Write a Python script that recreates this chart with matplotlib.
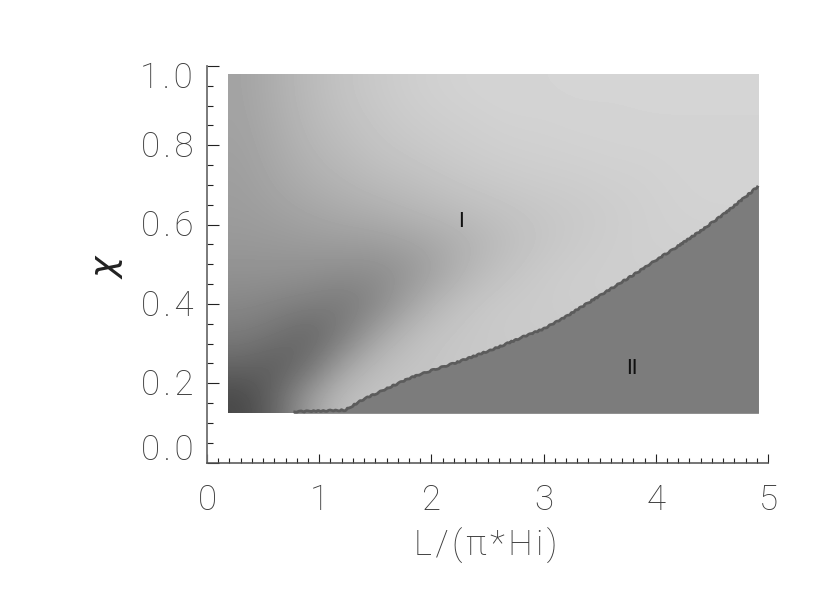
import numpy as np
import matplotlib
matplotlib.use('Agg')
import matplotlib.pyplot as plt

plt.rcParams['font.family'] = ['Roboto', 'DejaVu Sans']

# grey levels, bottom row first, 16 columns across L
grey = [
    [72, 105, 160, 190, 195, 197, 198, 198, 200, 200, 200, 200, 200, 200, 200, 200],
    [100, 92, 115, 165, 188, 195, 198, 200, 200, 200, 200, 200, 200, 200, 200, 200],
    [122, 112, 100, 125, 165, 188, 197, 200, 202, 202, 202, 202, 202, 202, 202, 202],
    [135, 130, 125, 120, 135, 165, 187, 198, 202, 203, 205, 205, 205, 205, 205, 205],
    [145, 145, 143, 140, 140, 150, 168, 186, 196, 202, 205, 206, 206, 206, 206, 206],
    [152, 153, 155, 156, 157, 162, 170, 180, 190, 197, 202, 205, 207, 208, 208, 208],
    [156, 160, 165, 170, 174, 180, 185, 190, 194, 198, 201, 204, 207, 209, 210, 210],
    [158, 166, 174, 180, 186, 190, 195, 199, 202, 204, 205, 207, 208, 210, 211, 211],
    [160, 170, 180, 187, 194, 198, 202, 205, 207, 208, 209, 210, 210, 211, 211, 211],
    [162, 173, 184, 192, 198, 203, 206, 208, 210, 210, 211, 211, 212, 212, 212, 212],
    [163, 175, 186, 195, 201, 206, 209, 211, 212, 212, 213, 213, 213, 213, 213, 213],
]
L_range = [0.187, 4.915]
chi_range = [0.124, 0.977]

# boundary between region I and II
bound_L = [0.77, 1.23, 1.4, 1.6, 1.8, 2.0, 2.2, 2.4, 2.6, 2.8, 3.0, 3.2, 3.4, 3.6, 3.8, 4.0, 4.2, 4.4, 4.6, 4.8, 4.915]
bound_chi = [0.128, 0.132, 0.160, 0.186, 0.212, 0.232, 0.250, 0.270, 0.291, 0.315, 0.337, 0.368, 0.403, 0.438, 0.473, 0.510, 0.546, 0.584, 0.625, 0.670, 0.697]

x_major = [0, 1, 2, 3, 4, 5]
y_major = [0.0, 0.2, 0.4, 0.6, 0.8, 1.0]
y_labels = ['0.0', '0.2', '0.4', '0.6', '0.8', '1.0']

W, H = 830, 594
fig = plt.figure(figsize=(W / 100, H / 100), dpi=100)
ax = fig.add_axes([207 / W, (H - 462.5) / H, 561 / W, 396.5 / H])

ax.imshow(np.array(grey), cmap='gray', vmin=0, vmax=255, origin='lower', aspect='auto',
          interpolation='bicubic', extent=[L_range[0], L_range[1], chi_range[0], chi_range[1]])

# region II on top, then the darker wobbly edge
ax.fill_between(bound_L, chi_range[0], bound_chi, color='#7c7c7c', lw=0)
edge, = ax.plot(bound_L, bound_chi, color='#5c5c5c', lw=2.0, solid_capstyle='butt')
edge.set_sketch_params(scale=0.6, length=8, randomness=3)

ax.set_xlim(0, 5)
ax.set_ylim(0, 1)
for s in ['top', 'right']:
    ax.spines[s].set_visible(False)
ax.spines['left'].set_color('#707070')
ax.spines['left'].set_linewidth(1.3)
ax.spines['bottom'].set_color('#505050')
ax.spines['bottom'].set_linewidth(1.1)

ax.set_xticks(x_major)
ax.set_xticks(np.arange(0, 5.01, 0.1), minor=True)
ax.set_yticks(y_major)
ax.set_yticks(np.arange(0, 1.01, 0.05), minor=True)
ax.tick_params(axis='x', which='major', direction='in', length=6.2, width=0.8, color='#222222')
ax.tick_params(axis='x', which='minor', direction='in', length=3.4, width=0.8, color='#222222')
ax.tick_params(axis='y', which='major', direction='in', length=8.6, width=0.8, color='#222222')
ax.tick_params(axis='y', which='minor', direction='in', length=4.6, width=0.8, color='#222222')
ax.set_xticklabels([])
ax.set_yticklabels([])

# labels placed by hand, first and last y label are pulled inside the axis
lab = dict(fontsize=25, color='#3c3c3c', fontweight='light')
for v in x_major:
    ax.annotate(str(v), (v, 0), xytext=(0, -38), xycoords='data', textcoords='offset pixels',
                ha='center', va='center', **lab)
for v, s in zip(y_major, y_labels):
    shift = {'0.0': 12, '1.0': -12}.get(s, -2)
    ax.annotate(s[0] + '\u200a.\u200a' + s[2], (0, v), xytext=(-14, shift), xycoords='data',
                textcoords='offset pixels', ha='right', va='center', **lab)

hair = '\u200a'
fig.text(486 / W, 1 - 546 / H, hair.join('L/(\u03c0*Hi)'), ha='center', va='center', **lab)
fig.text(107 / W, 1 - 266 / H, '$\\chi$', rotation=90, ha='center', va='center', fontsize=26, color='#222222')

ax.text(2.26, 0.608, 'I', ha='center', va='center', fontsize=15, color='#111111')
ax.text(3.79, 0.238, 'II', ha='center', va='center', fontsize=15, color='#111111')

fig.savefig('out.png', dpi=100)
